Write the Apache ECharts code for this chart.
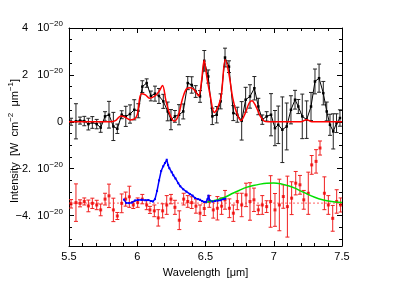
<!DOCTYPE html>
<html><head><meta charset="utf-8">
<script src="https://cdn.jsdelivr.net/npm/echarts@6/dist/echarts.min.js"></script>
<style>html,body{margin:0;padding:0;background:#fff}#c{width:410px;height:287px}</style>
</head><body><div id="c"></div>
<script>
// ---- tick labels ----
const xTickLabels = ['5.5', '6', '6.5', '7', '7.5'];
const yTickValues = [4, 2, 0, -2, -4];
const yTickMantissa = ['4   10', '2   10', '0', '\u22122.  10', '\u22124.  10'];
const yTickExp = ['\u221220', '\u221220', '', '\u221220', '\u221220'];

// ---- top panel: observed spectrum (black, units of 1e-20) ----
const blackWl = [5.515,5.551,5.581,5.612,5.642,5.671,5.703,5.732,5.764,5.793,5.825,5.854,5.886,5.916,5.947,5.978,6.008,6.037,6.069,6.1,6.13,6.159,6.191,6.223,6.247,6.276,6.306,6.337,6.37,6.399,6.428,6.46,6.491,6.52,6.55,6.582,6.611,6.643,6.672,6.704,6.733,6.765,6.794,6.826,6.858,6.887,6.916,6.948,6.98,7.009,7.033,7.063,7.095,7.126,7.156,7.18,7.209,7.241,7.273,7.302,7.332,7.363,7.388,7.412,7.436,7.46,7.485];
const blackVal = [0.0,0.02,0.05,0.03,-0.1,-0.03,-0.1,-0.25,0.23,0.3,-0.2,-0.3,0.3,0.23,0.33,0.51,0.47,1.5,1.65,1.1,1.2,1.1,0.87,0.44,0.09,0.23,0.3,0.44,1.65,1.57,1.29,1.08,2.6,1.93,0.23,0.3,0.87,2.74,2.35,0.37,0.3,0.04,0.94,1.08,1.43,0.65,0.09,0.23,0.3,-0.27,-0.13,-0.34,-0.2,0.51,0.94,0.65,0.23,0.09,0.65,1.72,1.86,1.22,0.44,-0.13,-0.41,-0.06,0.16];
const blackErr = [0.15,0.75,0.15,0.2,0.25,0.25,0.2,0.2,0.2,0.57,0.6,0.2,0.17,0.43,0.39,0.43,0.3,0.25,0.18,0.21,0.32,0.32,0.3,0.4,0.43,0.25,0.43,0.32,0.28,0.35,0.25,0.25,0.44,0.28,0.35,0.35,0.32,0.4,0.25,0.32,0.32,0.82,0.53,0.5,0.5,0.35,0.2,0.2,0.9,0.75,0.8,1.4,1.0,0.6,0.4,0.3,0.95,0.8,0.6,0.53,0.6,0.5,0.4,0.45,0.75,0.4,0.35];

// ---- top panel: model fit (red) ----
const modelWl = [5.5,5.8,5.84,5.88,5.91,5.95,5.98,6.0,6.03,6.06,6.09,6.13,6.16,6.185,6.21,6.24,6.27,6.3,6.33,6.36,6.39,6.42,6.45,6.47,6.49,6.51,6.535,6.565,6.59,6.615,6.645,6.67,6.7,6.73,6.76,6.79,6.82,6.84,6.87,6.9,6.93,6.96,7.2,7.24,7.28,7.5];
const modelVal = [0,0,0.05,0.25,0.2,0.08,0.12,0.3,1.2,1.15,1.0,1.1,1.3,1.55,0.9,0.3,0.03,0.25,0.95,1.4,1.45,1.35,1.1,1.7,2.62,1.9,1.1,0.4,0.6,1.1,2.65,2.1,1.0,0.35,0.05,0.35,0.8,0.9,0.65,0.25,0.03,0,0,0.09,0,0];

// ---- bottom panel: red points ----
const redWl = [5.515,5.551,5.581,5.612,5.642,5.671,5.703,5.732,5.764,5.793,5.825,5.854,5.886,5.915,5.942,5.971,6.003,6.037,6.069,6.093,6.125,6.154,6.186,6.216,6.247,6.276,6.308,6.34,6.37,6.399,6.43,6.46,6.491,6.528,6.557,6.587,6.618,6.643,6.675,6.704,6.733,6.765,6.797,6.826,6.855,6.887,6.916,6.948,6.977,7.009,7.041,7.07,7.1,7.131,7.161,7.192,7.22,7.253,7.278,7.31,7.339,7.371,7.4,7.432,7.461,7.49];
const redVal = [-3.5,-3.45,-3.48,-3.4,-3.59,-3.48,-3.55,-3.76,-3.3,-3.16,-3.76,-4.02,-3.48,-3.3,-3.2,-3.55,-3.45,-3.3,-3.55,-3.76,-3.8,-4.1,-3.8,-3.55,-3.3,-3.65,-4.2,-3.3,-3.4,-3.45,-3.6,-3.9,-3.7,-3.4,-3.76,-3.69,-3.6,-3.33,-3.69,-3.9,-3.4,-3.55,-3.12,-3.4,-3.33,-3.76,-3.55,-3.62,-3.4,-3.76,-3.55,-3.19,-3.62,-3.26,-2.62,-2.69,-3.33,-3.05,-1.84,-1.69,-1.12,-3.05,-3.55,-4.12,-3.4,-3.55];
const redErr = [0.18,0.8,0.15,0.15,0.25,0.22,0.2,0.25,0.25,0.5,0.5,0.15,0.4,0.3,0.45,0.15,0.2,0.2,0.2,0.15,0.25,0.35,0.3,0.4,0.2,0.3,0.4,0.25,0.25,0.25,0.3,0.35,0.3,0.25,0.35,0.5,0.35,0.4,0.4,0.35,0.35,0.5,0.5,0.8,0.5,0.2,0.4,0.25,1.1,0.7,1.1,0.5,1.3,0.7,0.5,0.4,0.4,0.9,0.4,0.5,0.3,0.7,0.4,0.55,0.5,0.3];

// ---- bottom panel: zero level (dotted red) ----
const baseWl = [5.5, 7.5];
const baseVal = [-3.47, -3.47];

// ---- bottom panel: blue spectrum ----
const blueWl = [5.903,5.92,5.94,5.96,5.983,6.005,6.033,6.06,6.081,6.1,6.115,6.13,6.145,6.16,6.175,6.19,6.203,6.216,6.226,6.235,6.252,6.264,6.28,6.3,6.315,6.337,6.36,6.385,6.405,6.423,6.445,6.46,6.475,6.49,6.505,6.515,6.522,6.53,6.55,6.57,6.59,6.61,6.63,6.645];
const blueVal = [-3.32,-3.47,-3.47,-3.45,-3.36,-3.34,-3.33,-3.35,-3.34,-3.38,-3.4,-3.3,-2.95,-2.5,-2.1,-1.9,-1.76,-1.62,-1.85,-1.98,-2.15,-2.28,-2.42,-2.62,-2.75,-2.88,-2.98,-3.08,-3.15,-3.25,-3.3,-3.33,-3.38,-3.42,-3.42,-3.3,-3.15,-3.35,-3.4,-3.38,-3.36,-3.35,-3.3,-3.28];

// ---- bottom panel: green broad component ----
const greenWl = [6.5,6.55,6.6,6.65,6.7,6.75,6.8,6.85,6.9,6.95,7.0,7.05,7.1,7.15,7.2,7.25,7.3,7.35,7.4,7.45,7.5];
const greenVal = [-3.44,-3.38,-3.3,-3.2,-3.05,-2.92,-2.8,-2.72,-2.66,-2.62,-2.61,-2.64,-2.72,-2.82,-2.96,-3.1,-3.22,-3.32,-3.38,-3.42,-3.44];

const zip = (a, b) => a.map((v, i) => [v, b[i]]);
const zip3 = (a, b, c) => a.map((v, i) => [v, b[i], c[i]]);

function errRender(color, capHalf) {
  return function (params, api) {
    const x = api.value(0), y = api.value(1), e = api.value(2);
    const top = api.coord([x, y + e]);
    const bot = api.coord([x, y - e]);
    const st = { stroke: color, lineWidth: 1 };
    return { type: 'group', children: [
      { type: 'line', shape: { x1: top[0], y1: top[1], x2: bot[0], y2: bot[1] }, style: st },
      { type: 'line', shape: { x1: top[0] - capHalf, y1: top[1], x2: top[0] + capHalf, y2: top[1] }, style: st },
      { type: 'line', shape: { x1: bot[0] - capHalf, y1: bot[1], x2: bot[0] + capHalf, y2: bot[1] }, style: st }
    ]};
  };
}

const FONT = "'Liberation Sans', Arial, Helvetica, sans-serif";
const chart = echarts.init(document.getElementById('c'), null, { renderer: 'canvas' });

const xAxisBase = {
  type: 'value', min: 5.5, max: 7.5, interval: 0.5,
  axisLine: { show: true, onZero: false, lineStyle: { color: '#000', width: 1 } },
  axisTick: { show: true, inside: true, length: 5, lineStyle: { color: '#000' } },
  minorTick: { show: true, splitNumber: 5, length: 3, lineStyle: { color: '#000' } },
  splitLine: { show: false }
};
const yAxisBase = {
  type: 'value', min: -5.3, max: 4, splitNumber: 5, minInterval: 2, maxInterval: 2,
  axisLine: { show: true, onZero: false, lineStyle: { color: '#000', width: 1 } },
  axisTick: { show: true, inside: true, length: 5, lineStyle: { color: '#000' } },
  minorTick: { show: true, splitNumber: 4, length: 3, lineStyle: { color: '#000' } },
  splitLine: { show: false }
};

chart.setOption({
  animation: false,
  backgroundColor: '#fff',
  grid: { left: 69, right: 68, top: 28, bottom: 41, containLabel: false },
  xAxis: [
    Object.assign({}, xAxisBase, {
      position: 'bottom',
      name: 'Wavelength  [\u03bcm]', nameLocation: 'middle', nameGap: 21,
      nameTextStyle: { color: '#000', fontSize: 11, fontFamily: FONT },
      axisLabel: { show: true, margin: 5, color: '#000', fontSize: 11, fontFamily: FONT,
        formatter: v => { const i = [5.5, 6, 6.5, 7, 7.5].findIndex(t => Math.abs(t - v) < 1e-6); return i >= 0 ? xTickLabels[i] : ''; } }
    }),
    Object.assign({}, xAxisBase, { position: 'top', axisLabel: { show: false } })
  ],
  yAxis: [
    Object.assign({}, yAxisBase, {
      position: 'left',
      axisLabel: { show: true, margin: 6, color: '#000', fontSize: 11, fontFamily: FONT,
        formatter: v => {
          const i = yTickValues.findIndex(t => Math.abs(t - v) < 1e-6);
          if (i < 0) return '';
          return yTickExp[i] ? '{m|' + yTickMantissa[i] + '}{e|' + yTickExp[i] + '}' : '{m|' + yTickMantissa[i] + '}';
        },
        rich: {
          m: { fontSize: 11, fontFamily: FONT, color: '#000' },
          e: { fontSize: 8, fontFamily: FONT, color: '#000', padding: [0, 0, 8, 0] }
        }
      }
    }),
    Object.assign({}, yAxisBase, { position: 'right', axisLabel: { show: false } })
  ],
  graphic: [{
    type: 'text', x: 15, y: 141, rotation: Math.PI / 2,
    style: {
      text: '{m|Intensity  [W  cm}{e|\u22122}{m|  \u03bcm}{e|\u22121}{m|]}',
      textAlign: 'center', textVerticalAlign: 'middle',
      rich: {
        m: { fontSize: 11, fontFamily: FONT, fill: '#000' },
        e: { fontSize: 8, fontFamily: FONT, fill: '#000', padding: [0, 0, 8, 0] }
      }
    }
  }],
  series: [
    { type: 'custom', name: 'blackErr', renderItem: errRender('#222', 2), data: zip3(blackWl, blackVal, blackErr),
      encode: { x: 0, y: 1 }, clip: true, z: 2 },
    { type: 'line', name: 'black', data: zip(blackWl, blackVal), symbol: 'rect', symbolSize: 2.5,
      itemStyle: { color: '#000' }, lineStyle: { color: '#000', width: 1 }, z: 3 },
    { type: 'line', name: 'model', data: zip(modelWl, modelVal), smooth: 0.35, showSymbol: false, symbol: 'none',
      lineStyle: { color: '#ff0000', width: 1.5 }, z: 4 },
    { type: 'line', name: 'base', data: zip(baseWl, baseVal), showSymbol: false, symbol: 'none',
      lineStyle: { color: 'rgba(255,60,60,0.8)', width: 1, type: [2, 2] }, z: 2 },
    { type: 'custom', name: 'redErr', renderItem: errRender('#f02020', 2), data: zip3(redWl, redVal, redErr),
      encode: { x: 0, y: 1 }, clip: true, z: 3 },
    { type: 'scatter', name: 'red', data: zip(redWl, redVal), symbol: 'rect', symbolSize: 3,
      itemStyle: { color: '#f00000' }, z: 4 },
    { type: 'line', name: 'blue', data: zip(blueWl, blueVal), symbol: 'rect', symbolSize: 2,
      itemStyle: { color: '#0000ff' }, lineStyle: { color: '#0000ff', width: 1.5 }, z: 5 },
    { type: 'line', name: 'green', data: zip(greenWl, greenVal), smooth: 0.3, showSymbol: false, symbol: 'none',
      lineStyle: { color: '#00e000', width: 1.5 }, z: 5 }
  ]
});
</script>
</body></html>
